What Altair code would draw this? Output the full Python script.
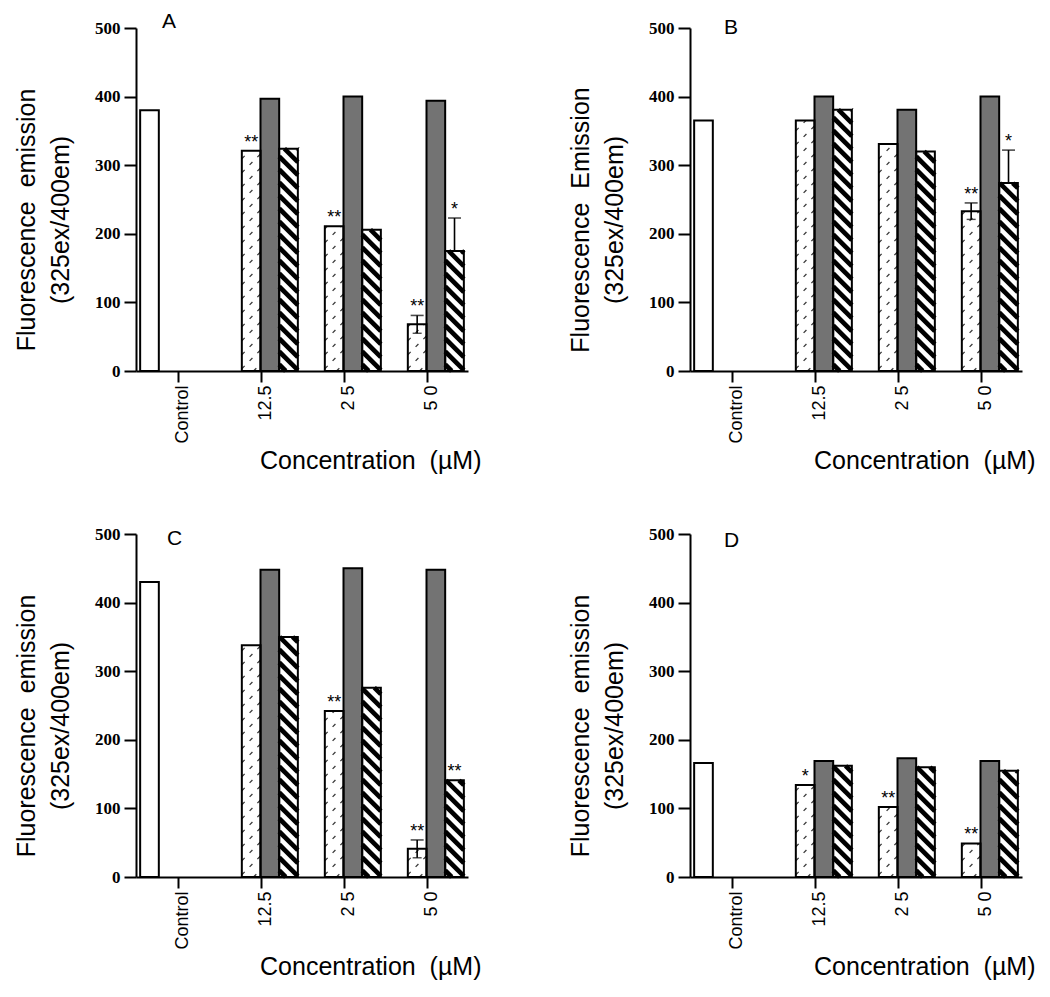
import json
import altair as alt
import pandas as pd

# ---------------- data ----------------
panels = ["A", "B", "C", "D"]
categories = ["Control", "12.5", "25", "50"]
tick_labels = ["Control", "12.5", "2 5", "5 0"]
NB = "\u00a0"
y_title_first = {"A": "Fluorescence" + NB * 2 + "emission", "B": "Fluorescence" + NB * 2 + "Emission",
                 "C": "Fluorescence" + NB * 2 + "emission", "D": "Fluorescence" + NB * 2 + "emission"}
y_title_second = "(325ex/400em)"
x_title = "Concentration" + NB * 2 + "(µM)"

control_values = {"A": 380, "B": 365, "C": 430, "D": 166}
hatched_values = {"A": [321, 211, 68], "B": [365, 331, 233], "C": [338, 242, 41], "D": [134, 102, 49]}
gray_values = {"A": [397, 400, 394], "B": [400, 381, 400], "C": [448, 450, 448], "D": [169, 173, 169]}
striped_values = {"A": [324, 206, 175], "B": [381, 320, 274], "C": [350, 276, 141], "D": [162, 160, 155]}
hatched_errors = {"A": [0, 0, 13], "B": [0, 0, 12], "C": [0, 0, 13], "D": [0, 0, 0]}
striped_errors = {"A": [0, 0, 48], "B": [0, 0, 48], "C": [0, 0, 0], "D": [0, 0, 0]}
hatched_marks = {"A": ["**", "**", "**"], "B": ["", "", "**"], "C": ["", "**", "**"], "D": ["*", "**", "**"]}
striped_marks = {"A": ["", "", "*"], "B": ["", "", "*"], "C": ["", "", "**"], "D": ["", "", ""]}

# ---------------- layout / style ----------------
W, H = 332, 343
SLOT = 0.225            # width of one bar as a fraction of a category step
PX_X = W / 4.0
PX_Y = H / 500.0
letter_dx = {"A": 26, "B": 34, "C": 31, "D": 34}
letter_offset = {"A": -30, "B": -36, "C": -41, "D": -43}
series_order = ["control", "hatched", "gray", "striped"]
series_fill = ["white", "white", "#737373", "white"]


def bar_table(p):
    rows = [dict(series="control", cat=0, slot=0, v=control_values[p], err=0, mark="")]
    for j in range(1, len(categories)):
        k = j - 1
        rows.append(dict(series="hatched", cat=j, slot=1, v=hatched_values[p][k],
                         err=hatched_errors[p][k], mark=hatched_marks[p][k]))
        rows.append(dict(series="gray", cat=j, slot=2, v=gray_values[p][k], err=0, mark=""))
        rows.append(dict(series="striped", cat=j, slot=3, v=striped_values[p][k],
                         err=striped_errors[p][k], mark=striped_marks[p][k]))
    df = pd.DataFrame(rows)
    df["x0"] = df["cat"] + 0.5 + (df["slot"] - 2) * SLOT
    df["x1"] = df["x0"] + SLOT
    df["xc"] = df["x0"] + SLOT / 2
    df["zero"] = 0
    df["hi"] = df["v"] + df["err"]
    df["lo"] = df["v"] - df["err"] * (df["series"] == "hatched")
    return df


def diagonal_segments(df, series, step_px, backslash):
    segs = []
    bw = SLOT * PX_X
    for _, r in df[df["series"] == series].iterrows():
        hp = r["v"] * PX_Y
        if backslash:  # lines px + py = c  (py measured upward)
            c = step_px / 2
            while c < bw + hp:
                pa, pb = max(0.0, c - hp), min(bw, c)
                if pb - pa > 0.3:
                    segs.append(dict(xa=r["x0"] + pa / PX_X, ya=(c - pa) / PX_Y,
                                     xb=r["x0"] + pb / PX_X, yb=(c - pb) / PX_Y))
                c += step_px
        else:  # lines py - px = c
            c = -bw + step_px / 2
            while c < hp:
                pa, pb = max(0.0, -c), min(bw, hp - c)
                if pb - pa > 0.3:
                    segs.append(dict(xa=r["x0"] + pa / PX_X, ya=(pa + c) / PX_Y,
                                     xb=r["x0"] + pb / PX_X, yb=(pb + c) / PX_Y))
                c += step_px
    return pd.DataFrame(segs)


label_expr = json.dumps(tick_labels) + "[round(datum.value - 0.5)]"
x_scale = alt.Scale(domain=[0, 4], nice=False, zero=False)
y_scale = alt.Scale(domain=[0, 500], nice=False)
x_axis = alt.Axis(values=[0.5, 1.5, 2.5, 3.5], labelExpr=label_expr, labelAngle=-90,
                  labelAlign="right", labelBaseline="middle", labelOffset=5,
                  labelFont="Liberation Sans", labelFontSize=18, labelPadding=3,
                  tickSize=11, tickWidth=2, domainWidth=2, grid=False,
                  title=x_title, titleFont="Liberation Sans", titleFontSize=25,
                  titleFontWeight="normal", titleAlign="right", titleBaseline="alphabetic",
                  titleX=W + 13, titleY=97)


def y_axis(p):
    return alt.Axis(values=[0, 100, 200, 300, 400, 500], labelFont="Liberation Serif",
                    labelFontWeight="bold", labelFontSize=17, labelPadding=4,
                    tickSize=12, tickWidth=2, domainWidth=2, grid=False,
                    title=[y_title_first[p], y_title_second], titleFont="Liberation Sans",
                    titleFontSize=25, titleFontWeight="normal", titleLineHeight=34,
                    titleAngle=-90, titleAlign="center", titleBaseline="bottom",
                    titleX=-97, titleY=H / 2 + 20)


def panel(p):
    df = bar_table(p)
    ya = y_axis(p)
    X = lambda f: alt.X(f + ":Q", scale=x_scale, axis=x_axis)
    Y = lambda f: alt.Y(f + ":Q", scale=y_scale, axis=ya)

    fills = alt.Chart(df).mark_rect(strokeWidth=0).encode(
        x=X("x0"), x2="x1", y=Y("v"), y2="zero",
        fill=alt.Fill("series:N", scale=alt.Scale(domain=series_order, range=series_fill), legend=None))
    stripes = alt.Chart(diagonal_segments(df, "striped", 13, True)).mark_rule(
        color="black", strokeWidth=4.6, strokeCap="butt").encode(
        x=X("xa"), y=Y("ya"), x2="xb", y2="yb")
    dashes = alt.Chart(diagonal_segments(df, "hatched", 14, False)).mark_rule(
        color="#3a3a3a", strokeWidth=1.3, strokeDash=[4, 7]).encode(
        x=X("xa"), y=Y("ya"), x2="xb", y2="yb")
    outlines = alt.Chart(df).mark_rect(fillOpacity=0, stroke="black", strokeWidth=2).encode(
        x=X("x0"), x2="x1", y=Y("v"), y2="zero")
    errs = alt.Chart(df).transform_filter("datum.err > 0").mark_rule(
        color="black", strokeWidth=1.6).encode(x=X("xc"), y=Y("lo"), y2="hi")
    caps_hi = alt.Chart(df).transform_filter("datum.err > 0").mark_tick(
        orient="horizontal", size=13, thickness=1.6, color="black").encode(x=X("xc"), y=Y("hi"))
    caps_lo = alt.Chart(df).transform_filter("datum.err > 0 && datum.series == 'hatched'").mark_tick(
        orient="horizontal", size=9, thickness=1.4, color="black").encode(x=X("xc"), y=Y("lo"))
    stars = alt.Chart(df).transform_filter("datum.mark != ''").mark_text(
        baseline="alphabetic", dy=-3, fontSize=18, font="Liberation Sans", color="black").encode(
        x=X("xc"), y=Y("hi"), text="mark:N")

    return alt.layer(fills, dashes, stripes, outlines, errs, caps_hi, caps_lo, stars).properties(
        width=W, height=H,
        title=alt.TitleParams(text=p, anchor="start", frame="group", dx=letter_dx[p],
                              offset=letter_offset[p], fontSize=21, fontWeight="normal",
                              font="Liberation Sans", baseline="alphabetic", color="black"))


chart = alt.concat(*[panel(p) for p in panels], columns=2,
                   spacing={"row": 163, "column": 222}, bounds="flush").properties(
    padding={"left": 6, "top": 3, "right": 2, "bottom": 2}
).configure_view(stroke=None).configure_axis(
    domainColor="black", tickColor="black", labelColor="black", titleColor="black"
)

chart.save("out.html", embed_options={"renderer": "svg", "actions": False})
